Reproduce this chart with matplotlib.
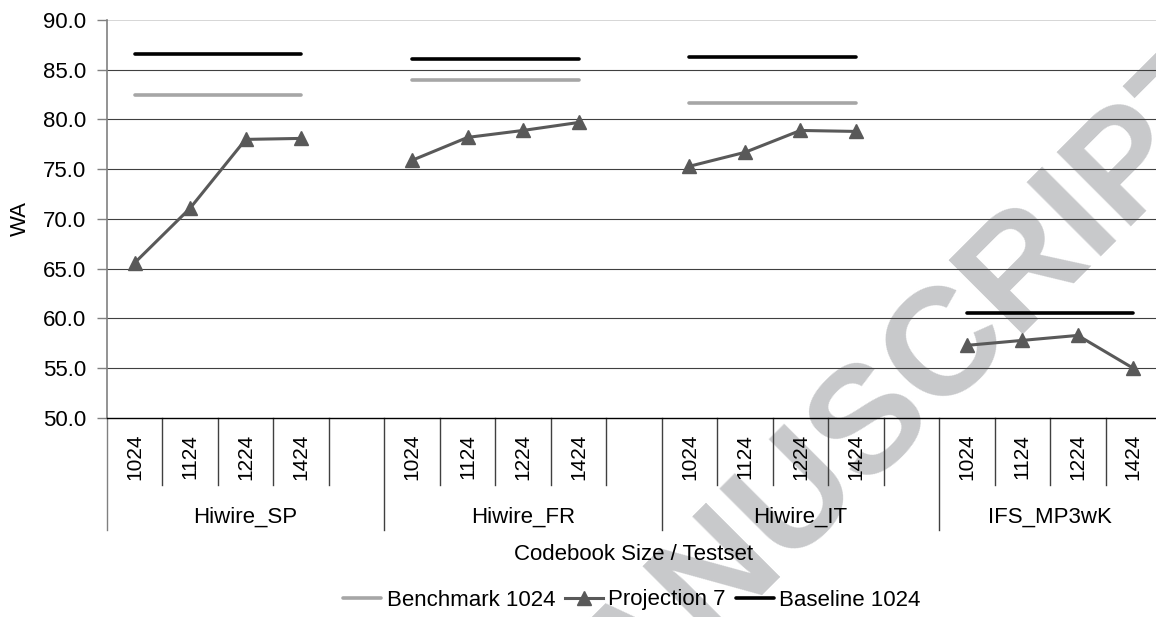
import numpy as np
import matplotlib
matplotlib.use("Agg")
import matplotlib.pyplot as plt
import matplotlib.transforms as mtransforms

plt.rcParams['font.family'] = ['Liberation Sans', 'DejaVu Sans']

# data
groups = ["Hiwire_SP", "Hiwire_FR", "Hiwire_IT", "IFS_MP3wK"]
sizes = ["1024", "1124", "1224", "1424"]
nan = np.nan
benchmark = [82.5, 82.5, 82.5, 82.5, nan,
             84.0, 84.0, 84.0, 84.0, nan,
             81.7, 81.7, 81.7, 81.7, nan,
             nan, nan, nan, nan]
projection = [65.6, 71.1, 78.0, 78.1, nan,
              75.9, 78.2, 78.9, 79.7, nan,
              75.3, 76.7, 78.9, 78.8, nan,
              57.3, 57.8, 58.3, 55.0]
baseline = [86.6, 86.6, 86.6, 86.6, nan,
            86.1, 86.1, 86.1, 86.1, nan,
            86.3, 86.3, 86.3, 86.3, nan,
            60.6, 60.6, 60.6, 60.6]
slot_labels = sizes + [""] + sizes + [""] + sizes + [""] + sizes

W, H = 1156, 617
fig = plt.figure(figsize=(W / 100, H / 100), dpi=100)
ax = fig.add_axes([107 / W, 1 - 418 / H, (1161 - 107) / W, (418 - 20) / H])
ax.patch.set_visible(False)

x = np.arange(len(slot_labels))
fs = 16

ax.plot(x, benchmark, color="#a6a6a6", lw=2.6, solid_capstyle="round", label="Benchmark 1024", zorder=3)
ax.plot(x, projection, color="#595959", lw=2.2, marker="^", ms=10, label="Projection 7", zorder=4)
ax.plot(x, baseline, color="black", lw=2.6, solid_capstyle="round", label="Baseline 1024", zorder=3)

ax.set_xlim(-0.5, len(slot_labels) - 0.5)
ax.set_ylim(50, 90)
ax.set_yticks(np.arange(50, 90.1, 5))
ax.set_yticklabels([f"{v:.1f}" for v in np.arange(50, 90.1, 5)], fontsize=fs)
for v in np.arange(55, 90, 5):
    ax.axhline(v, color="#404040", lw=0.8, zorder=1)
ax.axhline(90, color="#d0d0d0", lw=1.2, zorder=1)

for s in ["top", "right"]:
    ax.spines[s].set_visible(False)
ax.spines["left"].set_color("#808080")
ax.spines["left"].set_linewidth(1.2)
ax.spines["bottom"].set_color("black")
ax.spines["bottom"].set_linewidth(1.0)
ax.tick_params(axis="y", length=7, width=1, color="#808080", pad=8)
ax.set_xticks([])
ax.set_ylabel("WA", fontsize=fs)
ax.yaxis.set_label_coords(-(107 - 31) / (1161 - 107), 0.5)

# multi-level category axis
trans = mtransforms.blended_transform_factory(ax.transData, ax.transAxes)
ah = 418 - 20
short = -(485 - 418) / ah
long_ = -(530 - 418) / ah
long_bounds = [-0.5, 4.5, 9.5, 14.5, 18.5]
for b in np.arange(-0.5, len(slot_labels), 1.0):
    y0 = long_ if b in long_bounds else short
    ax.plot([b, b], [0, y0], transform=trans, color="#404040" if b != -0.5 else "#808080",
            lw=1.0, clip_on=False)
for i, lab in enumerate(slot_labels):
    if lab:
        ax.text(i, -(434 - 418) / ah, lab, transform=trans, rotation=90,
                ha="center", va="top", fontsize=15)
group_centers = [2, 7, 12, 16.5]
for gc, g in zip(group_centers, groups):
    ax.text(gc, -(517 - 418) / ah, g, transform=trans, ha="center", va="center", fontsize=fs)
fig.text(634 / W, 1 - 555 / H, "Codebook Size / Testset", ha="center", va="center", fontsize=fs)

fig.legend(loc="center", bbox_to_anchor=(632 / W, 1 - 600 / H), ncol=3, frameon=False,
           fontsize=fs, handlelength=1.7, handletextpad=0.25, columnspacing=0.45)

# watermark
fig.text(1262 / W, 1 - 95 / H, "ACCEPTED MANUSCRIPT", rotation=45, rotation_mode="anchor",
         ha="right", va="baseline", fontsize=110, fontweight="bold", color="#c8c9cb", zorder=-1)

fig.savefig("out.png", dpi=100)
